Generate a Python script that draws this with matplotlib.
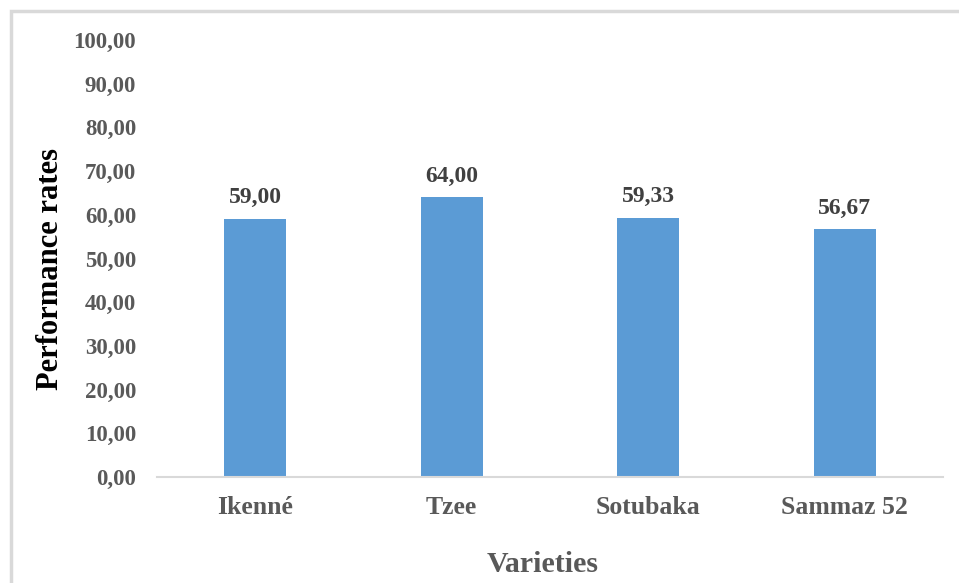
import matplotlib.pyplot as plt
from matplotlib.patches import Rectangle

varieties = ["Ikenné", "Tzee", "Sotubaka", "Sammaz 52"]
rates = [59.00, 64.00, 59.33, 56.67]
yticks = [0, 10, 20, 30, 40, 50, 60, 70, 80, 90, 100]

plt.rcParams['font.family'] = ['Liberation Serif', 'DejaVu Serif']
plt.rcParams['font.weight'] = 'bold'

fig = plt.figure(figsize=(9.59, 5.83), dpi=100)
ax = fig.add_axes([0.1637, 0.1818, 0.8196, 0.7496])

# chart frame (right and bottom edges run off the picture)
fig.patches.append(Rectangle((11 / 959, -0.05), 1.05, 1 - 11 / 583 + 0.05,
                             transform=fig.transFigure, fill=False,
                             edgecolor="#d9d9d9", linewidth=2.5))

x = range(len(varieties))
bars = ax.bar(x, rates, width=0.315, color="#5b9bd5")
for b, v in zip(bars, rates):
    ax.text(b.get_x() + b.get_width() / 2, v + 3.6, f"{v:.2f}".replace(".", ","),
            ha="center", va="baseline", fontsize=17, fontweight="bold", color="#404040")

ax.set_xlim(-0.5, len(varieties) - 0.5)
ax.set_ylim(0, 100)
ax.set_yticks(yticks)
ax.set_yticklabels([f"{t:.2f}".replace(".", ",") for t in yticks])
ax.set_xticks(list(x))
ax.set_xticklabels(varieties)
ax.tick_params(axis="y", length=0, pad=15, labelsize=16.5, labelcolor="#595959")
ax.tick_params(axis="x", length=0, pad=14, labelsize=18.5, labelcolor="#595959")
for lab in ax.get_xticklabels() + ax.get_yticklabels():
    lab.set_fontweight("bold")

for s in ["top", "right", "left"]:
    ax.spines[s].set_visible(False)
ax.spines["bottom"].set_color("#d9d9d9")
ax.spines["bottom"].set_linewidth(1.5)

ax.set_xlabel("Varieties", fontsize=21.5, fontweight="bold", color="#595959")
ax.xaxis.set_label_coords(0.49, -0.17)
ax.set_ylabel("Performance rates", fontsize=22, fontweight="bold", color="black")
ax.yaxis.set_label_coords(-0.117, 0.476)

fig.savefig("out.png", dpi=100)
